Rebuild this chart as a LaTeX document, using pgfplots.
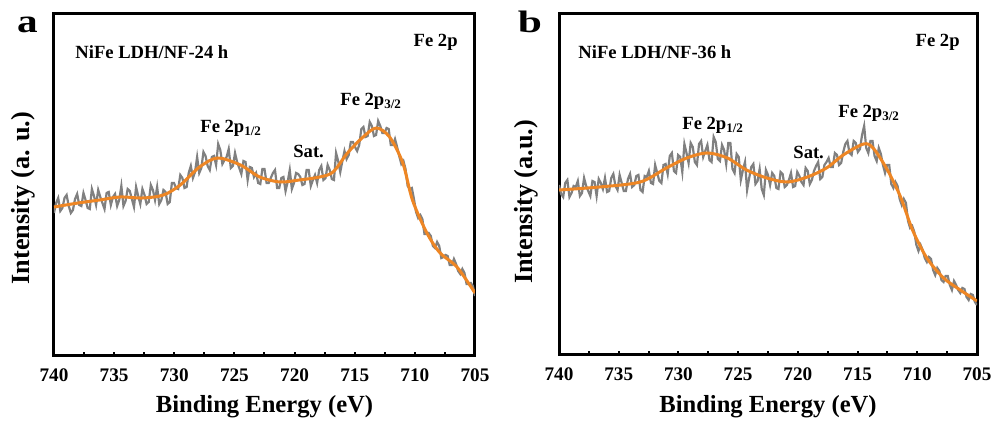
\documentclass[border=0pt]{standalone}
\usepackage{fontspec}
\setmainfont{Liberation Serif}
\usepackage{pgfplots}
\pgfplotsset{compat=1.18}
\definecolor{fitorange}{RGB}{238,134,36}
\definecolor{rawgray}{RGB}{128,128,128}
\pgfplotsset{
  xpsstyle/.style={
    anchor=south west, scale only axis,
    xmin=705, xmax=740, x dir=reverse, ymin=0,
    ytick=\empty,
    xtick={705,710,...,740},
    minor xtick={707.5,712.5,...,737.5},
    tick align=inside, xtick pos=left,
    major tick length=2pt, minor tick length=2pt,
    every tick/.style={black, line width=1pt},
    axis line style={line width=1.5pt},
    /pgf/number format/assume math mode=true,
    /pgf/number format/1000 sep={},
    xticklabel style={font=\fontsize{9.6}{10}\selectfont\bfseries, yshift=-3pt},
  }
}
\begin{document}
\begin{tikzpicture}
\path[use as bounding box] (0,0) rectangle (497.5pt,213pt);
% ---------------- panel a ----------------
\begin{axis}[xpsstyle, at={(27pt,35pt)}, width=210.5pt, height=171pt, ymax=342]
\addplot[rawgray, line width=1.1pt] coordinates {
(740.000,143)(739.825,153)(739.650,158)(739.475,145)(739.300,148)(739.125,158)(738.950,161)(738.775,150)(738.600,143)(738.425,146)
(738.250,157)(738.075,162)(737.900,151)(737.725,150)(737.550,163)(737.375,156)(737.200,148)(737.025,147)(736.850,167)(736.675,160)
(736.500,151)(736.325,166)(736.150,159)(735.975,153)(735.800,147)(735.625,163)(735.450,164)(735.275,151)(735.100,159)(734.925,162)
(734.750,150)(734.575,156)(734.400,170)(734.225,150)(734.050,155)(733.875,167)(733.700,165)(733.525,157)(733.350,149)(733.175,169)
(733.000,160)(732.825,152)(732.650,167)(732.475,161)(732.300,152)(732.125,154)(731.950,171)(731.775,166)(731.600,156)(731.425,169)
(731.250,152)(731.075,156)(730.900,166)(730.725,164)(730.550,152)(730.375,154)(730.200,173)(730.025,173)(729.850,168)(729.675,167)
(729.500,181)(729.325,178)(729.150,168)(728.975,169)(728.800,183)(728.625,190)(728.450,178)(728.275,184)(728.100,199)(727.925,183)
(727.750,188)(727.575,204)(727.400,200)(727.225,190)(727.050,186)(726.875,199)(726.700,200)(726.525,191)(726.350,212)(726.175,206)
(726.000,192)(725.825,196)(725.650,199)(725.475,207)(725.300,188)(725.125,190)(724.950,203)(724.775,194)(724.600,188)(724.425,182)
(724.250,195)(724.075,194)(723.900,176)(723.725,189)(723.550,188)(723.375,179)(723.200,183)(723.025,173)(722.850,172)(722.675,187)
(722.500,187)(722.325,173)(722.150,173)(721.975,178)(721.800,183)(721.625,186)(721.450,168)(721.275,168)(721.100,178)(720.925,179)
(720.750,165)(720.575,174)(720.400,186)(720.225,167)(720.050,173)(719.875,183)(719.700,182)(719.525,179)(719.350,171)(719.175,172)
(719.000,186)(718.825,186)(718.650,170)(718.475,176)(718.300,181)(718.125,173)(717.950,186)(717.775,190)(717.600,176)(717.425,178)
(717.250,191)(717.075,186)(716.900,177)(716.725,176)(716.550,203)(716.375,195)(716.200,184)(716.025,195)(715.850,205)(715.675,197)
(715.500,201)(715.325,214)(715.150,214)(714.975,209)(714.800,205)(714.625,211)(714.450,227)(714.275,229)(714.100,219)(713.925,220)
(713.750,234)(713.575,230)(713.400,220)(713.225,221)(713.050,235)(712.875,230)(712.700,223)(712.525,223)(712.350,228)(712.175,227)
(712.000,211)(711.825,211)(711.650,217)(711.475,209)(711.300,200)(711.125,192)(710.950,195)(710.775,187)(710.600,170)(710.425,167)
(710.250,168)(710.075,157)(709.900,144)(709.725,138)(709.550,141)(709.375,137)(709.200,122)(709.025,122)(708.850,123)(708.675,120)
(708.500,110)(708.325,108)(708.150,114)(707.975,110)(707.800,98)(707.625,99)(707.450,101)(707.275,100)(707.100,91)(706.925,91)
(706.750,97)(706.575,92)(706.400,85)(706.225,82)(706.050,87)(705.875,83)(705.700,72)(705.525,72)(705.350,73)(705.175,70)(705.000,60)
};
\addplot[fitorange, line width=1.5pt, smooth] coordinates {
(740.0,149)(738.0,153)(736.2,156)(734.5,159)(732.6,158)(730.9,161)(729.5,171)(727.9,189)(726.4,198)
(724.5,191)(722.9,179)(721.2,174)(719.6,176)(717.9,179)(716.8,184)(715.6,203)(714.3,219)(713.2,228)
(712.1,219)(711.0,193)(710.2,156)(709.0,123)(707.9,103)(706.5,89)(705.0,63)
};
\end{axis}
% ---------------- panel b ----------------
\begin{axis}[xpsstyle, at={(279.5pt,35.5pt)}, width=209pt, height=170.5pt, ymax=341]
\addplot[rawgray, line width=1.1pt] coordinates {
(740.000,170)(739.825,161)(739.650,158)(739.475,172)(739.300,175)(739.125,158)(738.950,162)(738.775,169)(738.600,168)(738.425,174)
(738.250,159)(738.075,162)(737.900,177)(737.725,169)(737.550,164)(737.375,159)(737.200,174)(737.025,173)(736.850,159)(736.675,176)
(736.500,172)(736.325,166)(736.150,177)(735.975,163)(735.800,164)(735.625,177)(735.450,181)(735.275,169)(735.100,165)(734.925,180)
(734.750,172)(734.575,164)(734.400,164)(734.225,176)(734.050,181)(733.875,168)(733.700,170)(733.525,179)(733.350,180)(733.175,165)
(733.000,163)(732.825,179)(732.650,178)(732.475,184)(732.300,172)(732.125,171)(731.950,190)(731.775,182)(731.600,174)(731.425,172)
(731.250,190)(731.075,191)(730.900,181)(730.725,199)(730.550,202)(730.375,184)(730.200,182)(730.025,200)(729.850,198)(729.675,183)
(729.500,211)(729.325,202)(729.150,192)(728.975,212)(728.800,208)(728.625,193)(728.450,190)(728.275,211)(728.100,214)(727.925,198)
(727.750,204)(727.575,210)(727.400,195)(727.225,193)(727.050,218)(726.875,213)(726.700,196)(726.525,194)(726.350,210)(726.175,205)
(726.000,191)(725.825,212)(725.650,212)(725.475,186)(725.300,182)(725.125,201)(724.950,198)(724.775,175)(724.600,185)(724.425,193)
(724.250,165)(724.075,177)(723.900,188)(723.725,191)(723.550,171)(723.375,174)(723.200,186)(723.025,166)(722.850,160)(722.675,185)
(722.500,180)(722.325,170)(722.150,182)(721.975,179)(721.800,167)(721.625,166)(721.450,183)(721.275,181)(721.100,168)(720.925,170)
(720.750,175)(720.575,182)(720.400,168)(720.225,169)(720.050,183)(719.875,179)(719.700,173)(719.525,170)(719.350,187)(719.175,184)
(719.000,171)(718.825,175)(718.650,184)(718.475,189)(718.300,193)(718.125,176)(717.950,178)(717.775,190)(717.600,193)(717.425,197)
(717.250,188)(717.075,188)(716.900,202)(716.725,200)(716.550,190)(716.375,192)(716.200,203)(716.025,211)(715.850,214)(715.675,202)
(715.500,200)(715.325,214)(715.150,212)(714.975,203)(714.800,206)(714.625,220)(714.450,229)(714.275,207)(714.100,202)(713.925,214)
(713.750,214)(713.575,199)(713.400,194)(713.225,207)(713.050,201)(712.875,190)(712.700,182)(712.525,190)(712.350,190)(712.175,171)
(712.000,167)(711.825,173)(711.650,169)(711.475,156)(711.300,150)(711.125,156)(710.950,152)(710.775,134)(710.600,127)(710.425,129)
(710.250,123)(710.075,110)(709.900,104)(709.725,110)(709.550,105)(709.375,97)(709.200,93)(709.025,98)(708.850,96)(708.675,85)
(708.500,80)(708.325,87)(708.150,84)(707.975,75)(707.800,73)(707.625,79)(707.450,79)(707.275,70)(707.100,65)(706.925,74)
(706.750,70)(706.575,65)(706.400,62)(706.225,67)(706.050,66)(705.875,58)(705.700,55)(705.525,61)(705.350,60)(705.175,53)(705.000,50)
};
\addplot[fitorange, line width=1.5pt, smooth] coordinates {
(740.0,165)(736.6,168)(733.2,173)(731.0,187)(729.3,197)(727.6,202)(725.9,197)(724.3,185)(722.6,177)
(720.9,173)(719.2,178)(717.6,187)(716.2,200)(714.5,211)(713.7,207)(712.5,185)(711.4,158)(710.4,125)
(709.2,97)(707.8,77)(706.4,65)(705.0,54)
};
\end{axis}
% ---------------- texts ----------------
\begin{scope}[every node/.style={inner sep=0pt, font=\bfseries}]
\node[anchor=base, font=\fontsize{16.5}{17}\selectfont\bfseries] at (13.75pt,196.5pt) {\scalebox{1.25}[1]{a}};
\node[anchor=base, font=\fontsize{15.5}{16}\selectfont\bfseries] at (265pt,196.5pt) {\scalebox{1.4}[1]{b}};
\node[anchor=west, font=\fontsize{9.3}{10}\selectfont\bfseries] at (37.5pt,187pt) {NiFe LDH/NF-24 h};
\node[anchor=east, font=\fontsize{9.3}{10}\selectfont\bfseries] at (229pt,192pt) {Fe 2p};
\node[anchor=base west, font=\fontsize{9.3}{10}\selectfont\bfseries] at (100pt,146.5pt) {Fe 2p\textsubscript{1/2}};
\node[anchor=base west, font=\fontsize{9.3}{10}\selectfont\bfseries] at (170pt,160pt) {Fe 2p\textsubscript{3/2}};
\node[anchor=base west, font=\fontsize{9.3}{10}\selectfont\bfseries] at (146.5pt,134pt) {Sat.};
\node[anchor=west, font=\fontsize{9.3}{10}\selectfont\bfseries] at (289pt,187pt) {NiFe LDH/NF-36 h};
\node[anchor=east, font=\fontsize{9.3}{10}\selectfont\bfseries] at (480pt,192pt) {Fe 2p};
\node[anchor=base west, font=\fontsize{9.3}{10}\selectfont\bfseries] at (341pt,148pt) {Fe 2p\textsubscript{1/2}};
\node[anchor=base west, font=\fontsize{9.3}{10}\selectfont\bfseries] at (419pt,154pt) {Fe 2p\textsubscript{3/2}};
\node[anchor=base west, font=\fontsize{9.3}{10}\selectfont\bfseries] at (396.5pt,133.5pt) {Sat.};
\node[anchor=base, font=\fontsize{12.3}{13}\selectfont\bfseries] at (132.25pt,6.5pt) {Binding Energy (eV)};
\node[anchor=base, font=\fontsize{12.3}{13}\selectfont\bfseries] at (384pt,6.5pt) {Binding Energy (eV)};
\node[rotate=90, anchor=center, font=\fontsize{13.1}{14}\selectfont\bfseries] at (11.5pt,114pt) {Intensity (a. u.)};
\node[rotate=90, anchor=center, font=\fontsize{13.1}{14}\selectfont\bfseries] at (263pt,112pt) {Intensity (a.u.)};
\end{scope}
\end{tikzpicture}
\end{document}
